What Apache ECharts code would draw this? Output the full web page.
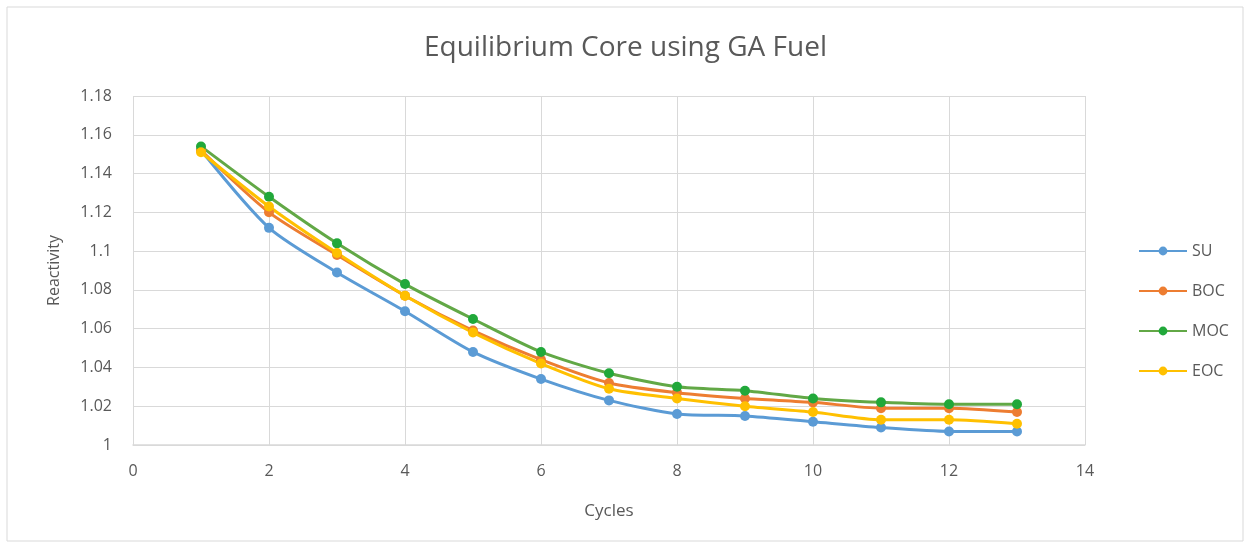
<!DOCTYPE html>
<html>
<head>
<meta charset="utf-8">
<title>Equilibrium Core using GA Fuel</title>
<script src="https://cdn.jsdelivr.net/npm/echarts@6/dist/echarts.min.js"></script>
<style>
  html, body { margin: 0; padding: 0; background: #fff; }
  #chart { width: 1251px; height: 548px; }
</style>
</head>
<body>
<div id="chart"></div>
<script>
var cycles = [1, 2, 3, 4, 5, 6, 7, 8, 9, 10, 11, 12, 13];
var su  = [1.152, 1.112, 1.089, 1.069, 1.048, 1.034, 1.023, 1.016, 1.015, 1.012, 1.009, 1.007, 1.007];
var boc = [1.152, 1.120, 1.098, 1.077, 1.059, 1.044, 1.032, 1.027, 1.024, 1.022, 1.019, 1.019, 1.017];
var moc = [1.154, 1.128, 1.104, 1.083, 1.065, 1.048, 1.037, 1.030, 1.028, 1.024, 1.022, 1.021, 1.021];
var eoc = [1.151, 1.123, 1.099, 1.077, 1.058, 1.042, 1.029, 1.024, 1.020, 1.017, 1.013, 1.013, 1.011];

var textColor = '#595959';
var gridColor = '#d9d9d9';

function pairs(vals) {
  return cycles.map(function (c, i) { return [c, vals[i]]; });
}

function makeSeries(name, vals, lineColor, dotColor) {
  return {
    name: name,
    type: 'line',
    data: pairs(vals),
    smooth: 0.25,
    symbol: 'circle',
    symbolSize: 10,
    lineStyle: { width: 3, color: lineColor },
    itemStyle: { color: dotColor },
    emphasis: { disabled: true }
  };
}

var myChart = echarts.init(document.getElementById('chart'));
var option = {
  backgroundColor: '#fff',
  animation: false,
  textStyle: { fontFamily: 'Open Sans' },
  graphic: [{
    type: 'rect',
    shape: { x: 7, y: 7, width: 1236, height: 534 },
    style: { fill: 'none', stroke: '#d9d9d9', lineWidth: 1 }
  }],
  title: {
    text: 'Equilibrium Core using GA Fuel',
    left: 'center',
    top: 29,
    textStyle: { color: textColor, fontSize: 28, fontWeight: 'normal', fontFamily: 'Open Sans' }
  },
  legend: {
    orient: 'vertical',
    left: 1133,
    top: 238,
    itemGap: 24,
    itemWidth: 48,
    itemHeight: 11,
    textStyle: { color: textColor, fontSize: 16 },
    data: ['SU', 'BOC', 'MOC', 'EOC']
  },
  grid: { left: 133, top: 96, right: 166, bottom: 103 },
  xAxis: {
    type: 'value',
    min: 0,
    max: 14,
    interval: 2,
    name: 'Cycles',
    nameLocation: 'middle',
    nameGap: 58,
    nameTextStyle: { color: textColor, fontSize: 17 },
    axisLine: { show: true, lineStyle: { color: gridColor, width: 1.5 } },
    axisTick: { show: false },
    axisLabel: { color: textColor, fontSize: 16, margin: 18 },
    splitLine: { show: true, lineStyle: { color: gridColor, width: 1 } }
  },
  yAxis: {
    type: 'value',
    min: 1,
    max: 1.18,
    interval: 0.02,
    name: 'Reactivity',
    nameLocation: 'middle',
    nameGap: 71,
    nameTextStyle: { color: textColor, fontSize: 16 },
    axisLine: { show: false },
    axisTick: { show: false },
    axisLabel: {
      color: textColor,
      fontSize: 16,
      margin: 21,
      formatter: function (v) { return String(Number(v.toFixed(2))); }
    },
    splitLine: { show: true, lineStyle: { color: gridColor, width: 1 } }
  },
  series: [
    makeSeries('SU', su, '#5b9bd5', '#5b9bd5'),
    makeSeries('BOC', boc, '#ed7d31', '#ed7d31'),
    makeSeries('MOC', moc, '#62a846', '#21a83a'),
    makeSeries('EOC', eoc, '#ffc000', '#ffc000')
  ]
};
myChart.setOption(option);
</script>
</body>
</html>
